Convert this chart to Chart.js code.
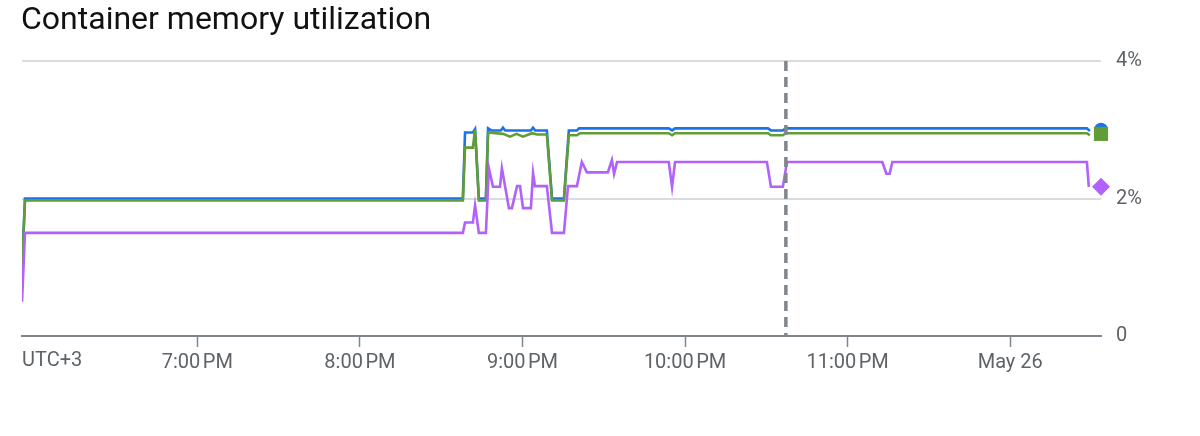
<!DOCTYPE html>
<html>
<head>
<meta charset="utf-8">
<script src="https://cdn.jsdelivr.net/npm/chart.js@4/dist/chart.umd.min.js"></script>
<style>
  html, body { margin: 0; padding: 0; background: #ffffff; }
  #wrap { position: relative; width: 1200px; height: 436px; }
  #title { position: absolute; left: 21px; top: 1px; font-family: Roboto, "Noto Sans", sans-serif; font-size: 32px; line-height: 34px; color: #111111; white-space: nowrap; }
  canvas { position: absolute; left: 0; top: 0; }
</style>
</head>
<body>
<div id="wrap">
  <canvas id="c" width="1200" height="436"></canvas>
  <div id="title">Container memory utilization</div>
</div>
<script>
// ---- data (x = minutes after 6:00 PM, y = percent) ----
const xMin = -4.7;
const xMax = 393.5;
const tickMinutes = [60, 120, 180, 240, 300, 360];
const tickLabels = ["7:00\u202fPM", "8:00\u202fPM", "9:00\u202fPM", "10:00\u202fPM", "11:00\u202fPM", "May 26"];
const timezoneLabel = "UTC+3";
const yTicks = [0, 2, 4];
const cursorMinute = 277.2;

const blueT = [-4.7, -3.6, 158.0, 158.8, 161.7, 162.5, 163.9, 166.5, 167.3, 168.5, 172.0, 172.8, 173.6, 183.1, 183.9, 184.7, 189.0, 190.9, 195.3, 197.1, 200.1, 200.9, 234.0, 235.2, 236.3, 270.6, 271.7, 276.1, 277.2, 388.3, 389.4];
const blueV = [0.99, 2.0, 2.0, 2.96, 2.96, 3.01, 2.0, 2.0, 3.02, 2.99, 2.99, 3.03, 2.99, 2.99, 3.03, 2.99, 2.99, 2.0, 2.0, 2.99, 2.99, 3.02, 3.02, 2.99, 3.02, 3.02, 2.99, 2.99, 3.02, 3.02, 2.98];

const greenT = [-4.7, -3.6, 158.0, 158.8, 161.7, 162.5, 163.9, 166.5, 167.3, 172.8, 175.4, 177.8, 180.2, 183.5, 185.4, 189.0, 190.9, 195.3, 197.1, 200.1, 201.2, 234.0, 235.2, 236.3, 270.6, 271.7, 276.1, 277.2, 388.3, 389.4];
const greenV = [0.97, 1.97, 1.97, 2.74, 2.74, 3.0, 1.97, 1.97, 2.96, 2.94, 2.90, 2.94, 2.90, 2.95, 2.93, 2.93, 1.97, 1.97, 2.92, 2.92, 2.95, 2.95, 2.92, 2.95, 2.95, 2.92, 2.92, 2.95, 2.95, 2.92];

const purpleT = [-4.7, -3.6, 158.0, 158.8, 161.7, 162.5, 163.9, 166.5, 167.6, 169.1, 171.7, 172.4, 175.0, 176.1, 178.0, 179.1, 180.2, 183.1, 183.9, 184.6, 189.0, 190.9, 195.3, 196.8, 200.1, 201.9, 203.8, 211.5, 213.0, 213.8, 214.9, 234.0, 235.2, 236.3, 270.2, 271.7, 276.1, 277.6, 312.8, 314.3, 315.5, 316.5, 388.3, 389.0];
const purpleV = [0.5, 1.5, 1.5, 1.65, 1.65, 1.9, 1.5, 1.5, 2.44, 2.17, 2.17, 2.44, 1.86, 1.86, 2.18, 2.18, 1.86, 1.86, 2.37, 2.18, 2.18, 1.5, 1.5, 2.18, 2.18, 2.53, 2.38, 2.38, 2.56, 2.36, 2.53, 2.53, 2.17, 2.53, 2.53, 2.17, 2.17, 2.53, 2.53, 2.36, 2.36, 2.53, 2.53, 2.17];

const blueEnd = 3.0;
const greenEnd = 2.94;
const purpleEnd = 2.17;

const BLUE = '#1a73e8';
const GREEN = '#629c36';
const PURPLE = '#b062fb';

function zip(t, v) { return t.map((x, i) => ({ x: x, y: v[i] })); }

const lineBase = { borderWidth: 2.6, pointRadius: 0, pointHoverRadius: 0, tension: 0, fill: false };

const cursorPlugin = {
  id: 'cursorLine',
  afterDatasetsDraw(chart) {
    const xs = chart.scales.x;
    const ca = chart.chartArea;
    const px = xs.getPixelForValue(cursorMinute);
    const ctx = chart.ctx;
    ctx.save();
    ctx.strokeStyle = '#80868b';
    ctx.lineWidth = 3.5;
    ctx.setLineDash([10, 6]);
    ctx.beginPath();
    ctx.moveTo(px, ca.top);
    ctx.lineTo(px, ca.bottom);
    ctx.stroke();
    ctx.restore();
  }
};

const tzPlugin = {
  id: 'tzLabel',
  afterDraw(chart) {
    const xs = chart.scales.x;
    const ctx = chart.ctx;
    ctx.save();
    ctx.font = '20px Roboto';
    ctx.fillStyle = '#5f6368';
    ctx.textAlign = 'left';
    ctx.textBaseline = 'top';
    ctx.fillText(timezoneLabel, chart.chartArea.left, xs.top + 11 + 4);
    ctx.restore();
  }
};

new Chart(document.getElementById('c'), {
  type: 'line',
  data: {
    datasets: [
      Object.assign({ label: 'blue', data: zip(blueT, blueV), borderColor: BLUE, order: 6 }, lineBase),
      Object.assign({ label: 'green', data: zip(greenT, greenV), borderColor: GREEN, order: 5 }, lineBase),
      Object.assign({ label: 'purple', data: zip(purpleT, purpleV), borderColor: PURPLE, order: 4 }, lineBase),
      { type: 'scatter', label: 'blueEnd', data: [{ x: xMax, y: blueEnd }], pointStyle: 'circle', pointRadius: 7, backgroundColor: BLUE, borderWidth: 0, clip: false, order: 3 },
      { type: 'scatter', label: 'greenEnd', data: [{ x: xMax, y: greenEnd }], pointStyle: 'rect', pointRadius: 10, backgroundColor: GREEN, borderWidth: 0, clip: false, order: 2 },
      { type: 'scatter', label: 'purpleEnd', data: [{ x: xMax, y: purpleEnd }], pointStyle: 'rectRot', pointRadius: 9, backgroundColor: PURPLE, borderWidth: 0, clip: false, order: 1 }
    ]
  },
  options: {
    responsive: false,
    animation: false,
    devicePixelRatio: 1,
    layout: { padding: { left: 22, right: 0, top: 61, bottom: 0 } },
    plugins: { legend: { display: false }, tooltip: { enabled: false }, title: { display: false } },
    events: [],
    scales: {
      x: {
        type: 'linear',
        min: xMin,
        max: xMax,
        afterBuildTicks(s) { s.ticks = tickMinutes.map(v => ({ value: v })); },
        afterFit(s) { s.height = 100; },
        ticks: {
          autoSkip: false,
          maxRotation: 0,
          padding: 4,
          color: '#5f6368',
          font: { family: 'Roboto', size: 20 },
          callback(v) { const i = tickMinutes.indexOf(v); return i >= 0 ? tickLabels[i] : ''; }
        },
        grid: { drawOnChartArea: false, drawTicks: true, tickLength: 11, tickColor: '#80868b', tickWidth: 1.5 },
        border: { display: true, color: '#80868b', width: 2 }
      },
      y: {
        position: 'right',
        min: 0,
        max: 4,
        afterBuildTicks(s) { s.ticks = yTicks.map(v => ({ value: v })); },
        afterFit(s) { s.width = 99; },
        ticks: {
          padding: 15,
          color: '#5f6368',
          font: { family: 'Roboto', size: 20 },
          callback(v) { return v === 0 ? '0' : v + '%'; }
        },
        grid: {
          drawTicks: false,
          lineWidth: 2,
          color(ctx) { return ctx.tick && ctx.tick.value === 0 ? 'rgba(0,0,0,0)' : '#dadce0'; }
        },
        border: { display: false }
      }
    }
  },
  plugins: [cursorPlugin, tzPlugin]
});
</script>
</body>
</html>
